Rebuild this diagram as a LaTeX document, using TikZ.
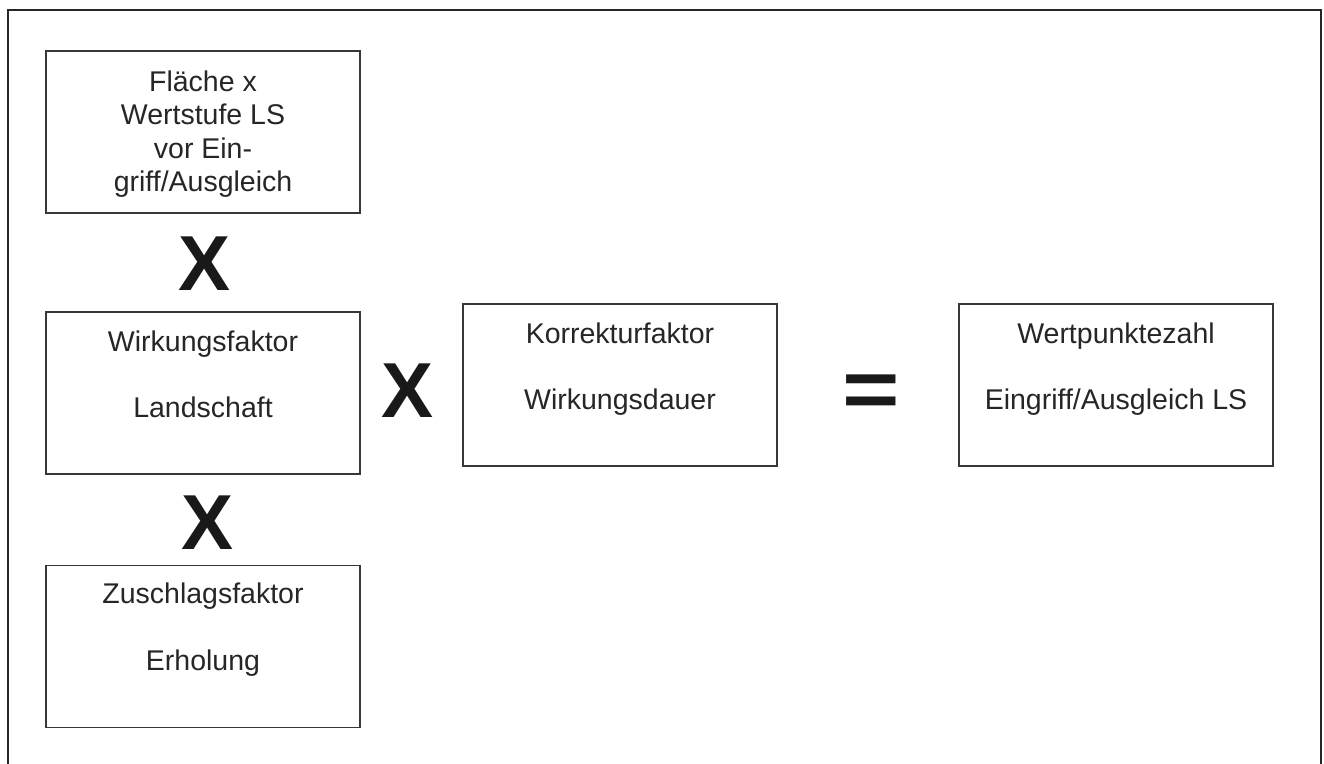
\documentclass[tikz,border=0pt]{standalone}
\usepackage{fontspec}
\setmainfont{Liberation Sans}
\begin{document}
\begin{tikzpicture}[x=1pt,y=-1pt,
  box/.style={draw=black!78,line width=1.5pt,rectangle,inner sep=0pt,minimum width=314pt,minimum height=162pt},
  txt/.style={anchor=base,inner sep=0pt,text=black!85,font=\fontsize{28.5}{34}\selectfont},
  op/.style={anchor=base,inner sep=0pt,text=black!90,font=\fontsize{78}{80}\selectfont\bfseries}]
\useasboundingbox (0,0) rectangle (1324,763);
\fill[white] (0,0) rectangle (1324,763);
% outer frame
\coordinate (fbl) at (8,770);
\coordinate (ftl) at (8,10);
\coordinate (ftr) at (1321,10);
\coordinate (fbr) at (1321,770);
\draw[line width=2.2pt,black!85] (fbl) -- (ftl) -- (ftr) -- (fbr);
% boxes
\node[box] (b1) at (203,132) {};
\node[box] (b2) at (203,393) {};
\node[box] (b3) at (203,646.5) {};
\node[box] (b4) at (620,385) {};
\node[box] (b5) at (1116,385) {};
% texts
\node[txt] (t11) at (203,91) {Fläche x};
\node[txt] (t12) at (203,124.5) {Wertstufe LS};
\node[txt] (t13) at (203,158) {vor Ein-};
\node[txt] (t14) at (203,191) {griff/Ausgleich};
\node[txt] (t21) at (203,351) {Wirkungsfaktor};
\node[txt] (t22) at (203,417) {Landschaft};
\node[txt] (t31) at (203,603) {Zuschlagsfaktor};
\node[txt] (t32) at (203,670) {Erholung};
\node[txt] (t41) at (620,343) {Korrekturfaktor};
\node[txt] (t42) at (620,409) {Wirkungsdauer};
\node[txt] (t51) at (1116,343) {Wertpunktezahl};
\node[txt] (t52) at (1116,409) {Eingriff/Ausgleich LS};
% operators
\node[op] (x1) at (205,290) {X};
\node[op] (x2) at (208,549) {X};
\node[op] (x3) at (408,417) {X};
\node[op,font=\fontsize{82}{82}\selectfont\bfseries] (eq) at (871,417) {\scalebox{1.2}[1]{=}};
\end{tikzpicture}
\end{document}
